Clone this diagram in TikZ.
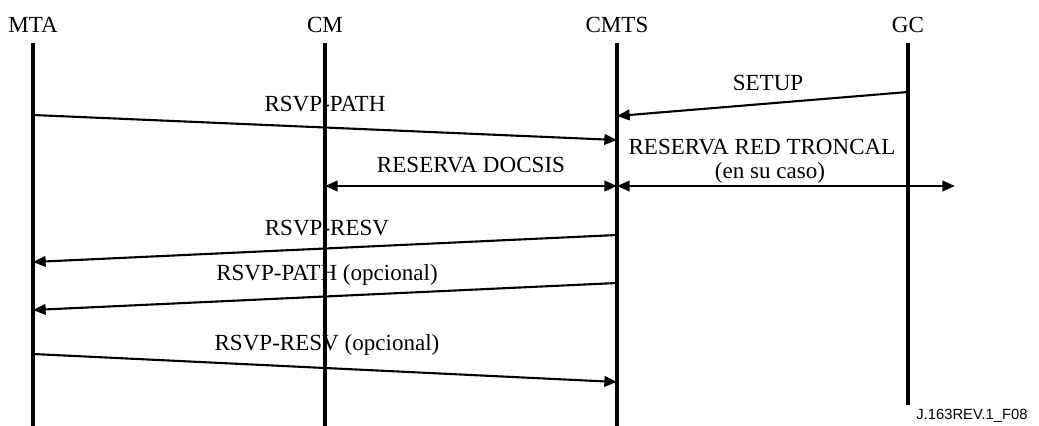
\documentclass[tikz,border=0pt]{standalone}
\usepackage{fontspec}
\setmainfont{Liberation Serif}
\newfontfamily\tagfont{Liberation Sans}
\usetikzlibrary{arrows.meta}
\tikzset{
  head/.style={font=\fontsize{16.4}{19}\selectfont,inner sep=1pt},
  lbl/.style={font=\fontsize{16.4}{19}\selectfont,inner sep=1pt},
  lifeline/.style={line width=2.2pt},
  msg/.style={line width=1.5pt,-{Triangle[length=9pt,width=7.5pt]}},
  twoway/.style={line width=1.5pt,{Triangle[length=9pt,width=7.5pt]}-{Triangle[length=9pt,width=7.5pt]}},
}
\begin{document}
\begin{tikzpicture}[x=0.025cm,y=-0.025cm]
	\useasboundingbox (0,0) rectangle (1039,426);
	% lifelines
	\foreach \name/\x/\yend/\txt in {mta/33/426/MTA,cm/325/426/CM,cmts/617/426/CMTS,gc/908/405/GC}{
		\node[head] (\name) at (\x,25) {\txt};
		\draw[lifeline] (\x,43) -- (\x,\yend);
	}
	% end points of the messages
	\coordinate (path1a) at (33,115);
	\coordinate (path1b) at (617,140);
	\coordinate (setupa) at (908,92);
	\coordinate (setupb) at (617,116);
	\coordinate (docsa) at (325,186);
	\coordinate (docsb) at (617,186);
	\coordinate (trunkb) at (955,186);
	\coordinate (resv1a) at (617,235);
	\coordinate (resv1b) at (33,262);
	\coordinate (path2a) at (617,283);
	\coordinate (path2b) at (33,310);
	\coordinate (resv2a) at (33,354);
	\coordinate (resv2b) at (617,382);
	% messages
	\draw[msg] (path1a) -- (path1b);
	\draw[msg] (setupa) -- (setupb);
	\draw[twoway] (docsa) -- (docsb);
	\draw[twoway] (docsb) -- (trunkb);
	\draw[msg] (resv1a) -- (resv1b);
	\draw[msg] (path2a) -- (path2b);
	\draw[msg] (resv2a) -- (resv2b);
	% labels
	\node[lbl] (lpath1) at (325,104) {RSVP-PATH};
	\node[lbl] (lsetup) at (768,83) {SETUP};
	\node[lbl] (ldocs) at (471,165) {RESERVA DOCSIS};
	\node[lbl] (ltrunk) at (762,147) {RESERVA RED TRONCAL};
	\node[lbl,fill=white] (lcase) at (770,173) {(en su caso)};
	\node[lbl] (lresv1) at (327,228) {RSVP-RESV};
	\node[lbl] (lpath2) at (327,275) {RSVP-PATH (opcional)};
	\node[lbl] (lresv2) at (327,345) {RSVP-RESV (opcional)};
	\node[font=\tagfont\fontsize{10.5}{12}\selectfont,inner sep=0pt] (tag) at (972,416) {J.163REV.1\_F08};
\end{tikzpicture}
\end{document}
